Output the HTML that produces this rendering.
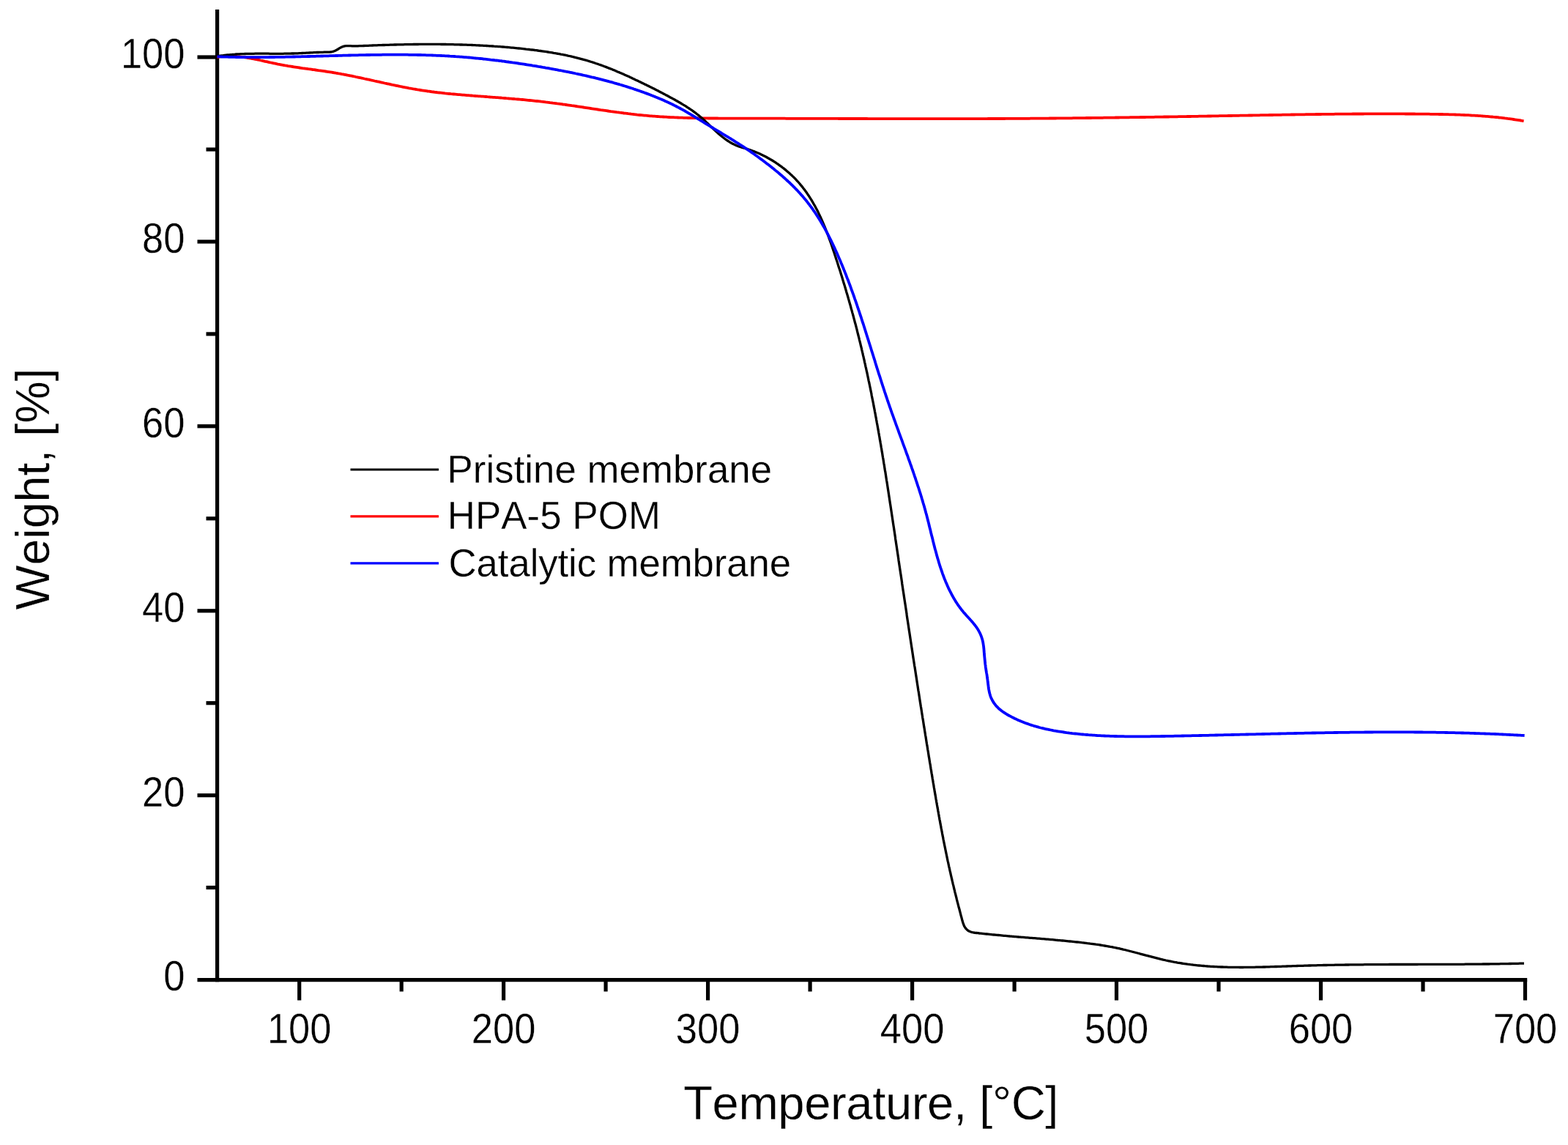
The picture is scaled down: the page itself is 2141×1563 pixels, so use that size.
<!DOCTYPE html>
<html><head><meta charset="utf-8"><title>TGA Weight vs Temperature</title>
<style>
html,body{margin:0;padding:0;background:#fff;}
svg{display:block;}
text{font-family:"Liberation Sans", Arial, sans-serif;font-kerning:none;fill:#000;stroke:#fff;stroke-width:0.3px;}
</style></head>
<body>
<svg width="2141" height="1563" viewBox="0 0 2141 1563">
<rect width="2141" height="1563" fill="#fff"/>
<line x1="296.6" y1="13" x2="296.6" y2="1340.2" stroke="#000" stroke-width="5.2"/>
<line x1="269.5" y1="1337.6" x2="2085.2" y2="1337.6" stroke="#000" stroke-width="5.2"/>
<line x1="281.5" y1="1211.6" x2="296.6" y2="1211.6" stroke="#000" stroke-width="5.2"/>
<line x1="269.5" y1="1085.7" x2="296.6" y2="1085.7" stroke="#000" stroke-width="5.2"/>
<line x1="281.5" y1="959.7" x2="296.6" y2="959.7" stroke="#000" stroke-width="5.2"/>
<line x1="269.5" y1="833.8" x2="296.6" y2="833.8" stroke="#000" stroke-width="5.2"/>
<line x1="281.5" y1="707.8" x2="296.6" y2="707.8" stroke="#000" stroke-width="5.2"/>
<line x1="269.5" y1="581.8" x2="296.6" y2="581.8" stroke="#000" stroke-width="5.2"/>
<line x1="281.5" y1="455.9" x2="296.6" y2="455.9" stroke="#000" stroke-width="5.2"/>
<line x1="269.5" y1="329.9" x2="296.6" y2="329.9" stroke="#000" stroke-width="5.2"/>
<line x1="281.5" y1="204.0" x2="296.6" y2="204.0" stroke="#000" stroke-width="5.2"/>
<line x1="269.5" y1="78.0" x2="296.6" y2="78.0" stroke="#000" stroke-width="5.2"/>
<line x1="408.7" y1="1337.6" x2="408.7" y2="1365.5" stroke="#000" stroke-width="5.2"/>
<line x1="548.2" y1="1337.6" x2="548.2" y2="1353.5" stroke="#000" stroke-width="5.2"/>
<line x1="687.6" y1="1337.6" x2="687.6" y2="1365.5" stroke="#000" stroke-width="5.2"/>
<line x1="827.1" y1="1337.6" x2="827.1" y2="1353.5" stroke="#000" stroke-width="5.2"/>
<line x1="966.6" y1="1337.6" x2="966.6" y2="1365.5" stroke="#000" stroke-width="5.2"/>
<line x1="1106.1" y1="1337.6" x2="1106.1" y2="1353.5" stroke="#000" stroke-width="5.2"/>
<line x1="1245.6" y1="1337.6" x2="1245.6" y2="1365.5" stroke="#000" stroke-width="5.2"/>
<line x1="1385.1" y1="1337.6" x2="1385.1" y2="1353.5" stroke="#000" stroke-width="5.2"/>
<line x1="1524.5" y1="1337.6" x2="1524.5" y2="1365.5" stroke="#000" stroke-width="5.2"/>
<line x1="1664.0" y1="1337.6" x2="1664.0" y2="1353.5" stroke="#000" stroke-width="5.2"/>
<line x1="1803.5" y1="1337.6" x2="1803.5" y2="1365.5" stroke="#000" stroke-width="5.2"/>
<line x1="1943.0" y1="1337.6" x2="1943.0" y2="1353.5" stroke="#000" stroke-width="5.2"/>
<line x1="2082.5" y1="1337.6" x2="2082.5" y2="1365.5" stroke="#000" stroke-width="5.2"/>
<text x="252.5" y="0" transform="translate(0 1352.4) scale(1 1.086)" text-anchor="end" font-size="52.5">0</text>
<text x="252.5" y="0" transform="translate(0 1100.5) scale(1 1.086)" text-anchor="end" font-size="52.5">20</text>
<text x="252.5" y="0" transform="translate(0 848.6) scale(1 1.086)" text-anchor="end" font-size="52.5">40</text>
<text x="252.5" y="0" transform="translate(0 596.6) scale(1 1.086)" text-anchor="end" font-size="52.5">60</text>
<text x="252.5" y="0" transform="translate(0 344.7) scale(1 1.086)" text-anchor="end" font-size="52.5">80</text>
<text x="252.5" y="0" transform="translate(0 92.8) scale(1 1.086)" text-anchor="end" font-size="52.5">100</text>
<text x="408.7" y="0" transform="translate(0 1424.0) scale(1 1.086)" text-anchor="middle" font-size="52.5">100</text>
<text x="687.6" y="0" transform="translate(0 1424.0) scale(1 1.086)" text-anchor="middle" font-size="52.5">200</text>
<text x="966.6" y="0" transform="translate(0 1424.0) scale(1 1.086)" text-anchor="middle" font-size="52.5">300</text>
<text x="1245.6" y="0" transform="translate(0 1424.0) scale(1 1.086)" text-anchor="middle" font-size="52.5">400</text>
<text x="1524.5" y="0" transform="translate(0 1424.0) scale(1 1.086)" text-anchor="middle" font-size="52.5">500</text>
<text x="1803.5" y="0" transform="translate(0 1424.0) scale(1 1.086)" text-anchor="middle" font-size="52.5">600</text>
<text x="2082.5" y="0" transform="translate(0 1424.0) scale(1 1.086)" text-anchor="middle" font-size="52.5">700</text>
<text x="933.20" y="0" transform="translate(0 1527.60) scale(1 1.0)" font-size="65.2" textLength="512.24" lengthAdjust="spacing">Temperature, [°C]</text>
<text x="0" y="0" transform="translate(66.50 832.50) rotate(-90) scale(1 1.0)" font-size="64.5" textLength="330.01" lengthAdjust="spacing">Weight, [%]</text>
<line x1="478.5" y1="641.0" x2="599" y2="641.0" stroke="#000" stroke-width="3.0"/>
<text x="610.60" y="0" transform="translate(0 658.60) scale(1 1.0)" font-size="52.8" textLength="443.51" lengthAdjust="spacing">Pristine membrane</text>
<line x1="478.5" y1="704.9" x2="599" y2="704.9" stroke="#ff0000" stroke-width="3.4"/>
<text x="610.80" y="0" transform="translate(0 722.20) scale(1 1.0)" font-size="52.8" textLength="291.13" lengthAdjust="spacing">HPA-5 POM</text>
<line x1="478.5" y1="768.9" x2="599" y2="768.9" stroke="#0000ff" stroke-width="3.4"/>
<text x="612.60" y="0" transform="translate(0 786.60) scale(1 1.0)" font-size="52.8" textLength="467.51" lengthAdjust="spacing">Catalytic membrane</text>
<path d="M296.5 78.0 L298.6 77.7 L300.6 77.4 L302.7 77.2 L304.7 77.1 L306.7 76.9 L308.8 76.8 L310.8 76.8 L312.8 76.7 L314.8 76.7 L316.8 76.8 L318.8 76.9 L320.8 77.0 L322.8 77.1 L324.8 77.3 L326.8 77.4 L328.7 77.6 L330.7 77.9 L332.7 78.1 L334.7 78.4 L336.6 78.7 L338.6 79.0 L340.6 79.4 L342.5 79.7 L344.5 80.1 L346.4 80.4 L348.4 80.8 L350.3 81.2 L352.3 81.6 L354.2 82.0 L356.2 82.5 L358.1 82.9 L360.1 83.3 L362.0 83.8 L364.0 84.2 L365.9 84.6 L367.9 85.1 L369.8 85.5 L371.8 85.9 L373.7 86.3 L375.7 86.7 L377.6 87.2 L379.6 87.6 L381.6 87.9 L383.5 88.3 L385.5 88.7 L387.4 89.0 L389.4 89.4 L391.4 89.7 L393.3 90.1 L395.3 90.4 L397.3 90.7 L399.3 91.0 L401.2 91.3 L403.2 91.6 L405.2 91.9 L407.2 92.2 L409.1 92.5 L411.1 92.8 L413.1 93.1 L415.1 93.3 L417.0 93.6 L419.0 93.9 L421.0 94.2 L423.0 94.4 L425.0 94.7 L426.9 95.0 L428.9 95.2 L430.9 95.5 L432.9 95.8 L434.9 96.1 L436.8 96.3 L438.8 96.6 L440.8 96.9 L442.8 97.2 L444.8 97.5 L446.7 97.8 L448.7 98.1 L450.7 98.4 L452.7 98.7 L454.6 99.0 L456.6 99.3 L458.6 99.7 L460.5 100.0 L462.5 100.4 L464.5 100.7 L466.4 101.1 L468.4 101.4 L470.4 101.8 L472.3 102.2 L474.3 102.6 L476.3 103.0 L478.2 103.3 L480.2 103.7 L482.1 104.1 L484.1 104.5 L486.0 105.0 L488.0 105.4 L490.0 105.8 L491.9 106.2 L493.9 106.6 L495.8 107.0 L497.8 107.5 L499.7 107.9 L501.7 108.3 L503.6 108.7 L505.6 109.2 L507.6 109.6 L509.5 110.0 L511.5 110.5 L513.4 110.9 L515.4 111.3 L517.3 111.7 L519.3 112.2 L521.2 112.6 L523.2 113.0 L525.1 113.5 L527.1 113.9 L529.0 114.3 L531.0 114.7 L532.9 115.1 L534.9 115.6 L536.9 116.0 L538.8 116.4 L540.8 116.8 L542.7 117.2 L544.7 117.6 L546.6 118.0 L548.6 118.4 L550.5 118.8 L552.5 119.2 L554.5 119.5 L556.4 119.9 L558.4 120.3 L560.3 120.6 L562.3 121.0 L564.3 121.4 L566.2 121.7 L568.2 122.0 L570.2 122.4 L572.1 122.7 L574.1 123.0 L576.1 123.3 L578.0 123.6 L580.0 123.9 L582.0 124.2 L584.0 124.5 L585.9 124.7 L587.9 125.0 L589.9 125.3 L591.9 125.5 L593.9 125.8 L595.8 126.0 L597.8 126.3 L599.8 126.5 L601.8 126.7 L603.8 126.9 L605.7 127.1 L607.7 127.4 L609.7 127.6 L611.7 127.8 L613.7 128.0 L615.7 128.2 L617.7 128.3 L619.6 128.5 L621.6 128.7 L623.6 128.9 L625.6 129.1 L627.6 129.2 L629.6 129.4 L631.6 129.6 L633.6 129.7 L635.6 129.9 L637.6 130.1 L639.6 130.2 L641.5 130.4 L643.5 130.5 L645.5 130.7 L647.5 130.8 L649.5 131.0 L651.5 131.1 L653.5 131.3 L655.5 131.4 L657.5 131.6 L659.5 131.7 L661.5 131.9 L663.5 132.0 L665.5 132.2 L667.5 132.3 L669.4 132.5 L671.4 132.6 L673.4 132.8 L675.4 132.9 L677.4 133.1 L679.4 133.2 L681.4 133.4 L683.4 133.5 L685.4 133.7 L687.4 133.8 L689.4 134.0 L691.4 134.2 L693.4 134.3 L695.3 134.5 L697.3 134.6 L699.3 134.8 L701.3 135.0 L703.3 135.2 L705.3 135.3 L707.3 135.5 L709.3 135.7 L711.3 135.9 L713.3 136.0 L715.2 136.2 L717.2 136.4 L719.2 136.6 L721.2 136.8 L723.2 137.0 L725.2 137.2 L727.2 137.4 L729.2 137.6 L731.2 137.8 L733.1 138.0 L735.1 138.2 L737.1 138.4 L739.1 138.7 L741.1 138.9 L743.1 139.1 L745.1 139.4 L747.0 139.6 L749.0 139.8 L751.0 140.1 L753.0 140.3 L755.0 140.6 L757.0 140.8 L758.9 141.1 L760.9 141.4 L762.9 141.6 L764.9 141.9 L766.9 142.2 L768.8 142.5 L770.8 142.7 L772.8 143.0 L774.8 143.3 L776.8 143.6 L778.8 143.9 L780.7 144.2 L782.7 144.4 L784.7 144.7 L786.7 145.0 L788.6 145.3 L790.6 145.6 L792.6 145.9 L794.6 146.2 L796.6 146.5 L798.5 146.8 L800.5 147.1 L802.5 147.4 L804.5 147.7 L806.5 148.0 L808.4 148.3 L810.4 148.6 L812.4 148.9 L814.4 149.2 L816.4 149.5 L818.3 149.8 L820.3 150.1 L822.3 150.3 L824.3 150.6 L826.3 150.9 L828.2 151.2 L830.2 151.5 L832.2 151.8 L834.2 152.1 L836.2 152.3 L838.1 152.6 L840.1 152.9 L842.1 153.2 L844.1 153.4 L846.1 153.7 L848.0 153.9 L850.0 154.2 L852.0 154.5 L854.0 154.7 L856.0 154.9 L857.9 155.2 L859.9 155.4 L861.9 155.7 L863.9 155.9 L865.9 156.1 L867.9 156.3 L869.9 156.6 L871.8 156.8 L873.8 157.0 L875.8 157.2 L877.8 157.4 L879.8 157.6 L881.8 157.7 L883.8 157.9 L885.8 158.1 L887.7 158.3 L889.7 158.4 L891.7 158.6 L893.7 158.7 L895.7 158.9 L897.7 159.0 L899.7 159.1 L901.7 159.3 L903.7 159.4 L905.7 159.5 L907.7 159.6 L909.7 159.7 L911.6 159.9 L913.6 160.0 L915.6 160.1 L917.6 160.2 L919.6 160.2 L921.6 160.3 L923.6 160.4 L925.6 160.5 L927.6 160.6 L929.6 160.6 L931.6 160.7 L933.6 160.8 L935.6 160.8 L937.6 160.9 L939.6 161.0 L941.6 161.0 L943.6 161.1 L945.6 161.1 L947.6 161.1 L949.6 161.2 L951.6 161.2 L953.6 161.3 L955.6 161.3 L957.6 161.3 L959.6 161.4 L961.6 161.4 L963.6 161.4 L965.6 161.4 L967.6 161.5 L969.6 161.5 L971.6 161.5 L973.6 161.5 L975.6 161.5 L977.6 161.5 L979.6 161.5 L981.6 161.6 L983.6 161.6 L985.6 161.6 L987.6 161.6 L989.6 161.6 L991.6 161.6 L993.6 161.6 L995.6 161.6 L997.6 161.6 L999.6 161.6 L1001.6 161.6 L1003.6 161.6 L1005.6 161.6 L1007.6 161.6 L1009.6 161.6 L1011.6 161.6 L1013.6 161.6 L1015.6 161.6 L1017.6 161.6 L1019.6 161.6 L1021.6 161.6 L1023.6 161.6 L1025.6 161.7 L1027.6 161.7 L1029.6 161.7 L1031.6 161.7 L1033.6 161.7 L1035.6 161.7 L1037.6 161.7 L1039.6 161.7 L1041.6 161.7 L1043.6 161.7 L1045.6 161.7 L1047.6 161.7 L1049.6 161.7 L1051.6 161.7 L1053.6 161.7 L1055.6 161.7 L1057.6 161.7 L1059.6 161.7 L1061.6 161.7 L1063.6 161.7 L1065.6 161.7 L1067.6 161.7 L1069.6 161.7 L1071.6 161.7 L1073.6 161.8 L1075.6 161.8 L1077.6 161.8 L1079.6 161.8 L1081.6 161.8 L1083.6 161.8 L1085.6 161.8 L1087.6 161.8 L1089.6 161.8 L1091.6 161.8 L1093.6 161.8 L1095.6 161.8 L1097.6 161.8 L1099.6 161.8 L1101.6 161.8 L1103.6 161.8 L1105.6 161.8 L1107.6 161.8 L1109.6 161.9 L1111.6 161.9 L1113.6 161.9 L1115.6 161.9 L1117.6 161.9 L1119.6 161.9 L1121.6 161.9 L1123.6 161.9 L1125.6 161.9 L1127.6 161.9 L1129.6 161.9 L1131.6 161.9 L1133.6 161.9 L1135.6 161.9 L1137.6 161.9 L1139.6 161.9 L1141.6 161.9 L1143.6 161.9 L1145.6 162.0 L1147.6 162.0 L1149.6 162.0 L1151.6 162.0 L1153.6 162.0 L1155.6 162.0 L1157.6 162.0 L1159.6 162.0 L1161.6 162.0 L1163.6 162.0 L1165.6 162.0 L1167.6 162.0 L1169.6 162.0 L1171.6 162.0 L1173.6 162.0 L1175.6 162.0 L1177.6 162.0 L1179.6 162.0 L1181.6 162.0 L1183.6 162.0 L1185.6 162.1 L1187.6 162.1 L1189.6 162.1 L1191.6 162.1 L1193.6 162.1 L1195.6 162.1 L1197.6 162.1 L1199.6 162.1 L1201.6 162.1 L1203.6 162.1 L1205.6 162.1 L1207.6 162.1 L1209.6 162.1 L1211.6 162.1 L1213.6 162.1 L1215.6 162.1 L1217.6 162.1 L1219.6 162.1 L1221.6 162.1 L1223.6 162.1 L1225.6 162.1 L1227.6 162.1 L1229.6 162.1 L1231.6 162.1 L1233.6 162.1 L1235.6 162.1 L1237.6 162.1 L1239.6 162.2 L1241.6 162.2 L1243.6 162.2 L1245.6 162.2 L1247.6 162.2 L1249.6 162.2 L1251.6 162.2 L1253.6 162.2 L1255.6 162.2 L1257.6 162.2 L1259.6 162.2 L1261.6 162.2 L1263.6 162.2 L1265.6 162.2 L1267.6 162.2 L1269.6 162.2 L1271.5 162.2 L1273.5 162.2 L1275.5 162.2 L1277.5 162.2 L1279.5 162.2 L1281.5 162.2 L1283.5 162.2 L1285.5 162.2 L1287.5 162.2 L1289.5 162.2 L1291.5 162.2 L1293.5 162.2 L1295.5 162.2 L1297.5 162.2 L1299.5 162.2 L1301.5 162.2 L1303.5 162.2 L1305.5 162.2 L1307.5 162.1 L1309.5 162.1 L1311.5 162.1 L1313.5 162.1 L1315.5 162.1 L1317.5 162.1 L1319.5 162.1 L1321.5 162.1 L1323.5 162.1 L1325.5 162.1 L1327.5 162.1 L1329.5 162.1 L1331.5 162.1 L1333.5 162.1 L1335.5 162.1 L1337.5 162.1 L1339.5 162.1 L1341.5 162.1 L1343.5 162.1 L1345.5 162.1 L1347.5 162.1 L1349.5 162.0 L1351.5 162.0 L1353.5 162.0 L1355.5 162.0 L1357.5 162.0 L1359.5 162.0 L1361.5 162.0 L1363.5 162.0 L1365.5 162.0 L1367.5 162.0 L1369.5 162.0 L1371.5 162.0 L1373.5 161.9 L1375.5 161.9 L1377.5 161.9 L1379.5 161.9 L1381.5 161.9 L1383.5 161.9 L1385.5 161.9 L1387.5 161.9 L1389.5 161.9 L1391.5 161.9 L1393.4 161.8 L1395.4 161.8 L1397.4 161.8 L1399.4 161.8 L1401.4 161.8 L1403.4 161.8 L1405.4 161.8 L1407.4 161.7 L1409.4 161.7 L1411.4 161.7 L1413.4 161.7 L1415.4 161.7 L1417.4 161.7 L1419.4 161.7 L1421.4 161.6 L1423.4 161.6 L1425.4 161.6 L1427.4 161.6 L1429.4 161.6 L1431.4 161.6 L1433.4 161.5 L1435.4 161.5 L1437.4 161.5 L1439.4 161.5 L1441.4 161.5 L1443.4 161.4 L1445.4 161.4 L1447.4 161.4 L1449.4 161.4 L1451.4 161.4 L1453.4 161.4 L1455.4 161.3 L1457.4 161.3 L1459.4 161.3 L1461.4 161.3 L1463.4 161.3 L1465.4 161.2 L1467.4 161.2 L1469.4 161.2 L1471.4 161.2 L1473.4 161.1 L1475.4 161.1 L1477.4 161.1 L1479.4 161.1 L1481.4 161.1 L1483.4 161.0 L1485.4 161.0 L1487.4 161.0 L1489.4 161.0 L1491.4 160.9 L1493.4 160.9 L1495.4 160.9 L1497.4 160.9 L1499.4 160.8 L1501.4 160.8 L1503.4 160.8 L1505.4 160.8 L1507.4 160.7 L1509.4 160.7 L1511.4 160.7 L1513.4 160.7 L1515.4 160.6 L1517.4 160.6 L1519.4 160.6 L1521.4 160.6 L1523.4 160.5 L1525.4 160.5 L1527.4 160.5 L1529.4 160.4 L1531.4 160.4 L1533.4 160.4 L1535.4 160.4 L1537.4 160.3 L1539.4 160.3 L1541.4 160.3 L1543.4 160.2 L1545.4 160.2 L1547.4 160.2 L1549.4 160.2 L1551.4 160.1 L1553.4 160.1 L1555.4 160.1 L1557.4 160.0 L1559.4 160.0 L1561.4 160.0 L1563.4 160.0 L1565.4 159.9 L1567.4 159.9 L1569.4 159.9 L1571.4 159.8 L1573.4 159.8 L1575.4 159.8 L1577.4 159.7 L1579.4 159.7 L1581.4 159.7 L1583.4 159.6 L1585.4 159.6 L1587.4 159.6 L1589.4 159.5 L1591.4 159.5 L1593.4 159.5 L1595.4 159.5 L1597.4 159.4 L1599.4 159.4 L1601.4 159.4 L1603.4 159.3 L1605.4 159.3 L1607.4 159.3 L1609.4 159.2 L1611.4 159.2 L1613.4 159.2 L1615.4 159.1 L1617.4 159.1 L1619.4 159.1 L1621.4 159.0 L1623.4 159.0 L1625.3 159.0 L1627.3 158.9 L1629.3 158.9 L1631.3 158.8 L1633.3 158.8 L1635.3 158.8 L1637.3 158.7 L1639.3 158.7 L1641.3 158.7 L1643.3 158.6 L1645.3 158.6 L1647.3 158.6 L1649.3 158.5 L1651.3 158.5 L1653.3 158.5 L1655.3 158.4 L1657.3 158.4 L1659.3 158.4 L1661.3 158.3 L1663.3 158.3 L1665.3 158.2 L1667.3 158.2 L1669.3 158.2 L1671.3 158.1 L1673.3 158.1 L1675.3 158.1 L1677.3 158.0 L1679.3 158.0 L1681.3 158.0 L1683.3 157.9 L1685.3 157.9 L1687.3 157.9 L1689.3 157.8 L1691.3 157.8 L1693.3 157.7 L1695.3 157.7 L1697.3 157.7 L1699.3 157.6 L1701.3 157.6 L1703.3 157.6 L1705.3 157.5 L1707.3 157.5 L1709.3 157.5 L1711.3 157.4 L1713.3 157.4 L1715.3 157.3 L1717.3 157.3 L1719.3 157.3 L1721.3 157.2 L1723.3 157.2 L1725.3 157.2 L1727.3 157.1 L1729.3 157.1 L1731.3 157.1 L1733.3 157.0 L1735.3 157.0 L1737.3 157.0 L1739.3 156.9 L1741.3 156.9 L1743.3 156.9 L1745.3 156.8 L1747.3 156.8 L1749.3 156.8 L1751.3 156.7 L1753.3 156.7 L1755.3 156.7 L1757.3 156.6 L1759.3 156.6 L1761.3 156.6 L1763.3 156.5 L1765.3 156.5 L1767.3 156.5 L1769.3 156.4 L1771.3 156.4 L1773.3 156.4 L1775.2 156.3 L1777.2 156.3 L1779.2 156.3 L1781.2 156.3 L1783.2 156.2 L1785.2 156.2 L1787.2 156.2 L1789.2 156.1 L1791.2 156.1 L1793.2 156.1 L1795.2 156.1 L1797.2 156.0 L1799.2 156.0 L1801.2 156.0 L1803.2 156.0 L1805.2 155.9 L1807.2 155.9 L1809.2 155.9 L1811.2 155.9 L1813.2 155.8 L1815.2 155.8 L1817.2 155.8 L1819.2 155.8 L1821.2 155.8 L1823.2 155.7 L1825.2 155.7 L1827.2 155.7 L1829.2 155.7 L1831.2 155.7 L1833.2 155.6 L1835.2 155.6 L1837.2 155.6 L1839.2 155.6 L1841.2 155.6 L1843.2 155.6 L1845.2 155.6 L1847.2 155.5 L1849.2 155.5 L1851.2 155.5 L1853.2 155.5 L1855.2 155.5 L1857.2 155.5 L1859.2 155.5 L1861.2 155.5 L1863.2 155.4 L1865.2 155.4 L1867.2 155.4 L1869.2 155.4 L1871.2 155.4 L1873.2 155.4 L1875.2 155.4 L1877.2 155.4 L1879.2 155.4 L1881.2 155.4 L1883.2 155.4 L1885.2 155.4 L1887.2 155.4 L1889.2 155.4 L1891.2 155.4 L1893.2 155.4 L1895.2 155.4 L1897.2 155.4 L1899.2 155.4 L1901.2 155.4 L1903.2 155.4 L1905.2 155.4 L1907.2 155.4 L1909.2 155.4 L1911.2 155.4 L1913.2 155.4 L1915.2 155.4 L1917.2 155.4 L1919.2 155.5 L1921.2 155.5 L1923.2 155.5 L1925.2 155.5 L1927.2 155.5 L1929.2 155.5 L1931.2 155.5 L1933.2 155.6 L1935.2 155.6 L1937.2 155.6 L1939.2 155.6 L1941.2 155.6 L1943.2 155.7 L1945.2 155.7 L1947.2 155.7 L1949.2 155.7 L1951.2 155.7 L1953.2 155.8 L1955.2 155.8 L1957.2 155.8 L1959.2 155.9 L1961.2 155.9 L1963.2 155.9 L1965.2 156.0 L1967.2 156.0 L1969.2 156.0 L1971.2 156.1 L1973.2 156.1 L1975.2 156.2 L1977.1 156.2 L1979.1 156.3 L1981.1 156.3 L1983.1 156.4 L1985.1 156.4 L1987.1 156.5 L1989.1 156.6 L1991.1 156.6 L1993.1 156.7 L1995.1 156.8 L1997.1 156.9 L1999.1 157.0 L2001.1 157.1 L2003.1 157.1 L2005.1 157.2 L2007.1 157.3 L2009.1 157.5 L2011.1 157.6 L2013.1 157.7 L2015.1 157.8 L2017.1 157.9 L2019.1 158.1 L2021.1 158.2 L2023.1 158.3 L2025.1 158.5 L2027.0 158.6 L2029.0 158.8 L2031.0 158.9 L2033.0 159.1 L2035.0 159.3 L2037.0 159.5 L2039.0 159.7 L2041.0 159.8 L2043.0 160.0 L2044.9 160.2 L2046.9 160.5 L2048.9 160.7 L2050.9 160.9 L2052.9 161.1 L2054.9 161.4 L2056.9 161.6 L2058.8 161.9 L2060.8 162.1 L2062.8 162.4 L2064.8 162.7 L2066.8 163.0 L2068.7 163.3 L2070.7 163.6 L2072.7 163.9 L2074.7 164.2 L2076.7 164.5 L2078.6 164.9 L2080.6 165.2" fill="none" stroke="#ff0000" stroke-width="3.8" stroke-linejoin="round"/>
<path d="M296.8 76.8 L298.8 76.5 L300.8 76.2 L302.8 75.9 L304.8 75.7 L306.8 75.4 L308.7 75.2 L310.7 75.0 L312.7 74.8 L314.7 74.6 L316.7 74.5 L318.7 74.3 L320.7 74.2 L322.7 74.0 L324.7 73.9 L326.7 73.8 L328.7 73.7 L330.6 73.6 L332.6 73.6 L334.6 73.5 L336.6 73.4 L338.6 73.4 L340.6 73.3 L342.6 73.3 L344.6 73.3 L346.6 73.3 L348.6 73.2 L350.6 73.2 L352.6 73.2 L354.6 73.2 L356.6 73.2 L358.5 73.2 L360.5 73.2 L362.5 73.2 L364.5 73.2 L366.5 73.2 L368.5 73.3 L370.5 73.3 L372.5 73.3 L374.5 73.3 L376.5 73.3 L378.5 73.3 L380.5 73.3 L382.5 73.3 L384.5 73.3 L386.5 73.3 L388.5 73.2 L390.5 73.2 L392.5 73.2 L394.5 73.1 L396.5 73.1 L398.5 73.0 L400.6 73.0 L402.6 72.9 L404.6 72.8 L406.6 72.8 L408.6 72.7 L410.6 72.6 L412.6 72.5 L414.6 72.4 L416.6 72.3 L418.6 72.2 L420.6 72.1 L422.6 72.0 L424.7 71.9 L426.7 71.8 L428.7 71.7 L430.7 71.6 L432.7 71.5 L434.7 71.5 L436.7 71.4 L438.7 71.3 L440.7 71.3 L442.7 71.2 L444.7 71.2 L446.7 71.2 L448.7 71.1 L450.7 71.0 L452.7 70.8 L454.6 70.4 L456.4 69.8 L458.2 69.0 L460.0 68.0 L461.7 67.0 L463.4 65.9 L465.2 64.9 L467.0 64.0 L468.8 63.4 L470.7 62.9 L472.7 62.7 L474.7 62.6 L476.7 62.6 L478.7 62.7 L480.7 62.8 L482.8 62.8 L484.8 62.8 L486.8 62.8 L488.8 62.8 L490.8 62.7 L492.8 62.7 L494.8 62.6 L496.8 62.5 L498.8 62.4 L500.8 62.3 L502.8 62.3 L504.8 62.2 L506.8 62.1 L508.8 62.0 L510.7 61.9 L512.7 61.9 L514.7 61.8 L516.7 61.7 L518.7 61.7 L520.7 61.6 L522.7 61.5 L524.7 61.5 L526.7 61.4 L528.7 61.3 L530.7 61.3 L532.7 61.2 L534.7 61.2 L536.7 61.1 L538.7 61.0 L540.7 61.0 L542.7 60.9 L544.7 60.9 L546.7 60.9 L548.7 60.8 L550.7 60.8 L552.7 60.7 L554.7 60.7 L556.7 60.7 L558.7 60.6 L560.7 60.6 L562.7 60.6 L564.7 60.5 L566.7 60.5 L568.7 60.5 L570.7 60.5 L572.7 60.4 L574.7 60.4 L576.6 60.4 L578.6 60.4 L580.6 60.4 L582.6 60.4 L584.6 60.4 L586.6 60.4 L588.6 60.4 L590.6 60.4 L592.6 60.4 L594.6 60.4 L596.6 60.4 L598.6 60.4 L600.6 60.4 L602.6 60.5 L604.6 60.5 L606.6 60.5 L608.6 60.5 L610.6 60.6 L612.6 60.6 L614.6 60.6 L616.6 60.7 L618.6 60.7 L620.6 60.8 L622.6 60.8 L624.6 60.9 L626.6 60.9 L628.6 61.0 L630.6 61.0 L632.6 61.1 L634.6 61.2 L636.6 61.2 L638.6 61.3 L640.6 61.4 L642.6 61.4 L644.6 61.5 L646.6 61.6 L648.6 61.7 L650.6 61.8 L652.6 61.9 L654.6 62.0 L656.6 62.1 L658.6 62.2 L660.6 62.3 L662.5 62.4 L664.5 62.5 L666.5 62.6 L668.5 62.8 L670.5 62.9 L672.5 63.0 L674.5 63.2 L676.5 63.3 L678.5 63.4 L680.5 63.6 L682.5 63.7 L684.5 63.9 L686.5 64.0 L688.5 64.2 L690.5 64.4 L692.5 64.5 L694.5 64.7 L696.4 64.9 L698.4 65.1 L700.4 65.2 L702.4 65.4 L704.4 65.6 L706.4 65.8 L708.4 66.0 L710.4 66.2 L712.4 66.4 L714.4 66.6 L716.4 66.8 L718.3 67.1 L720.3 67.3 L722.3 67.5 L724.3 67.8 L726.3 68.0 L728.3 68.2 L730.3 68.5 L732.3 68.7 L734.2 69.0 L736.2 69.3 L738.2 69.5 L740.2 69.8 L742.2 70.1 L744.2 70.4 L746.1 70.7 L748.1 71.0 L750.1 71.3 L752.1 71.6 L754.0 71.9 L756.0 72.3 L758.0 72.6 L759.9 73.0 L761.9 73.3 L763.9 73.7 L765.8 74.1 L767.8 74.4 L769.8 74.8 L771.7 75.2 L773.7 75.6 L775.6 76.1 L777.6 76.5 L779.5 76.9 L781.5 77.4 L783.4 77.8 L785.3 78.3 L787.3 78.8 L789.2 79.3 L791.2 79.8 L793.1 80.3 L795.0 80.8 L796.9 81.3 L798.9 81.9 L800.8 82.4 L802.7 83.0 L804.6 83.6 L806.5 84.2 L808.4 84.8 L810.3 85.4 L812.2 86.0 L814.1 86.7 L816.0 87.3 L817.9 88.0 L819.8 88.6 L821.6 89.3 L823.5 90.0 L825.4 90.7 L827.3 91.4 L829.1 92.1 L831.0 92.9 L832.9 93.6 L834.7 94.3 L836.6 95.1 L838.4 95.8 L840.3 96.6 L842.1 97.4 L844.0 98.2 L845.8 98.9 L847.7 99.7 L849.5 100.5 L851.3 101.3 L853.2 102.2 L855.0 103.0 L856.8 103.8 L858.7 104.6 L860.5 105.5 L862.3 106.3 L864.1 107.2 L865.9 108.0 L867.7 108.9 L869.5 109.7 L871.3 110.6 L873.1 111.4 L874.9 112.3 L876.7 113.2 L878.5 114.1 L880.3 114.9 L882.1 115.8 L883.9 116.7 L885.7 117.6 L887.5 118.5 L889.3 119.3 L891.0 120.2 L892.8 121.1 L894.6 122.0 L896.4 122.9 L898.1 123.8 L899.9 124.8 L901.7 125.7 L903.5 126.6 L905.2 127.5 L907.0 128.4 L908.7 129.4 L910.5 130.3 L912.3 131.3 L914.0 132.2 L915.8 133.2 L917.6 134.1 L919.3 135.1 L921.1 136.0 L922.8 137.0 L924.6 138.0 L926.3 139.0 L928.1 140.0 L929.8 141.0 L931.5 142.1 L933.2 143.1 L935.0 144.1 L936.7 145.2 L938.3 146.3 L940.0 147.4 L941.7 148.5 L943.3 149.6 L945.0 150.7 L946.6 151.9 L948.2 153.1 L949.8 154.2 L951.4 155.5 L953.0 156.7 L954.5 157.9 L956.0 159.2 L957.5 160.5 L959.0 161.8 L960.5 163.1 L962.0 164.5 L963.4 165.8 L964.8 167.2 L966.3 168.5 L967.7 169.9 L969.1 171.3 L970.6 172.7 L972.0 174.0 L973.4 175.4 L974.9 176.8 L976.3 178.1 L977.8 179.5 L979.3 180.8 L980.8 182.2 L982.3 183.5 L983.8 184.8 L985.3 186.0 L986.9 187.3 L988.5 188.5 L990.1 189.7 L991.7 190.9 L993.4 192.0 L995.1 193.1 L996.8 194.2 L998.6 195.2 L1000.4 196.2 L1002.2 197.1 L1004.0 197.9 L1005.8 198.7 L1007.6 199.5 L1009.5 200.2 L1011.4 200.8 L1013.3 201.4 L1015.2 201.9 L1017.1 202.5 L1019.0 203.0 L1020.9 203.6 L1022.8 204.2 L1024.7 204.9 L1026.5 205.5 L1028.4 206.2 L1030.3 206.9 L1032.1 207.7 L1034.0 208.5 L1035.8 209.3 L1037.6 210.1 L1039.4 210.9 L1041.2 211.8 L1043.0 212.7 L1044.8 213.6 L1046.6 214.5 L1048.3 215.5 L1050.1 216.5 L1051.8 217.5 L1053.6 218.5 L1055.3 219.5 L1057.0 220.6 L1058.7 221.7 L1060.3 222.8 L1062.0 223.9 L1063.6 225.1 L1065.3 226.3 L1066.9 227.4 L1068.5 228.7 L1070.1 229.9 L1071.6 231.1 L1073.2 232.4 L1074.7 233.7 L1076.2 235.0 L1077.7 236.3 L1079.2 237.7 L1080.7 239.0 L1082.1 240.4 L1083.6 241.8 L1085.0 243.2 L1086.4 244.7 L1087.7 246.1 L1089.1 247.6 L1090.4 249.0 L1091.7 250.5 L1093.0 252.1 L1094.3 253.6 L1095.5 255.1 L1096.7 256.7 L1097.9 258.2 L1099.1 259.8 L1100.3 261.4 L1101.4 263.0 L1102.5 264.6 L1103.6 266.3 L1104.7 267.9 L1105.8 269.6 L1106.9 271.3 L1107.9 272.9 L1108.9 274.6 L1109.9 276.3 L1110.9 278.1 L1111.9 279.8 L1112.9 281.5 L1113.8 283.3 L1114.7 285.0 L1115.7 286.8 L1116.6 288.6 L1117.5 290.4 L1118.3 292.2 L1119.2 294.0 L1120.0 295.8 L1120.9 297.6 L1121.7 299.4 L1122.5 301.2 L1123.3 303.1 L1124.1 304.9 L1124.9 306.8 L1125.7 308.6 L1126.4 310.5 L1127.2 312.4 L1127.9 314.2 L1128.7 316.1 L1129.4 318.0 L1130.1 319.9 L1130.8 321.8 L1131.5 323.7 L1132.2 325.6 L1132.9 327.5 L1133.6 329.4 L1134.3 331.3 L1135.0 333.2 L1135.6 335.1 L1136.3 337.0 L1136.9 339.0 L1137.6 340.9 L1138.2 342.8 L1138.9 344.7 L1139.5 346.6 L1140.1 348.5 L1140.8 350.5 L1141.4 352.4 L1142.0 354.3 L1142.7 356.2 L1143.3 358.1 L1143.9 360.1 L1144.5 362.0 L1145.1 363.9 L1145.7 365.8 L1146.4 367.7 L1147.0 369.6 L1147.6 371.5 L1148.2 373.5 L1148.8 375.4 L1149.4 377.3 L1150.0 379.2 L1150.5 381.1 L1151.1 383.0 L1151.7 385.0 L1152.3 386.9 L1152.9 388.8 L1153.5 390.7 L1154.0 392.6 L1154.6 394.5 L1155.2 396.4 L1155.7 398.4 L1156.3 400.3 L1156.9 402.2 L1157.4 404.1 L1158.0 406.0 L1158.5 407.9 L1159.1 409.9 L1159.6 411.8 L1160.2 413.7 L1160.7 415.6 L1161.3 417.5 L1161.8 419.5 L1162.3 421.4 L1162.9 423.3 L1163.4 425.2 L1163.9 427.1 L1164.5 429.1 L1165.0 431.0 L1165.5 432.9 L1166.0 434.8 L1166.5 436.7 L1167.0 438.7 L1167.5 440.6 L1168.1 442.5 L1168.6 444.4 L1169.1 446.4 L1169.6 448.3 L1170.1 450.2 L1170.5 452.2 L1171.0 454.1 L1171.5 456.0 L1172.0 458.0 L1172.5 459.9 L1173.0 461.8 L1173.4 463.8 L1173.9 465.7 L1174.4 467.6 L1174.9 469.6 L1175.3 471.5 L1175.8 473.4 L1176.3 475.4 L1176.7 477.3 L1177.2 479.3 L1177.6 481.2 L1178.1 483.1 L1178.5 485.1 L1179.0 487.0 L1179.4 489.0 L1179.9 490.9 L1180.3 492.9 L1180.7 494.8 L1181.2 496.7 L1181.6 498.7 L1182.0 500.6 L1182.5 502.6 L1182.9 504.5 L1183.3 506.5 L1183.8 508.4 L1184.2 510.4 L1184.6 512.3 L1185.0 514.3 L1185.4 516.2 L1185.8 518.2 L1186.2 520.1 L1186.7 522.1 L1187.1 524.1 L1187.5 526.0 L1187.9 528.0 L1188.3 529.9 L1188.7 531.9 L1189.1 533.8 L1189.5 535.8 L1189.9 537.7 L1190.2 539.7 L1190.6 541.7 L1191.0 543.6 L1191.4 545.6 L1191.8 547.5 L1192.2 549.5 L1192.6 551.5 L1192.9 553.4 L1193.3 555.4 L1193.7 557.4 L1194.1 559.3 L1194.4 561.3 L1194.8 563.3 L1195.2 565.2 L1195.5 567.2 L1195.9 569.1 L1196.3 571.1 L1196.6 573.1 L1197.0 575.1 L1197.3 577.0 L1197.7 579.0 L1198.1 581.0 L1198.4 582.9 L1198.8 584.9 L1199.1 586.9 L1199.5 588.8 L1199.8 590.8 L1200.2 592.8 L1200.5 594.7 L1200.9 596.7 L1201.2 598.7 L1201.5 600.7 L1201.9 602.6 L1202.2 604.6 L1202.6 606.6 L1202.9 608.5 L1203.2 610.5 L1203.6 612.5 L1203.9 614.5 L1204.2 616.4 L1204.6 618.4 L1204.9 620.4 L1205.2 622.4 L1205.5 624.3 L1205.9 626.3 L1206.2 628.3 L1206.5 630.3 L1206.8 632.2 L1207.2 634.2 L1207.5 636.2 L1207.8 638.2 L1208.1 640.2 L1208.4 642.1 L1208.8 644.1 L1209.1 646.1 L1209.4 648.1 L1209.7 650.0 L1210.0 652.0 L1210.3 654.0 L1210.6 656.0 L1211.0 658.0 L1211.3 659.9 L1211.6 661.9 L1211.9 663.9 L1212.2 665.9 L1212.5 667.9 L1212.8 669.8 L1213.1 671.8 L1213.4 673.8 L1213.7 675.8 L1214.0 677.8 L1214.3 679.7 L1214.6 681.7 L1214.9 683.7 L1215.2 685.7 L1215.5 687.7 L1215.8 689.6 L1216.1 691.6 L1216.4 693.6 L1216.7 695.6 L1217.0 697.6 L1217.3 699.5 L1217.6 701.5 L1217.9 703.5 L1218.2 705.5 L1218.5 707.5 L1218.8 709.4 L1219.1 711.4 L1219.4 713.4 L1219.7 715.4 L1220.0 717.4 L1220.3 719.3 L1220.6 721.3 L1220.9 723.3 L1221.2 725.3 L1221.5 727.3 L1221.8 729.2 L1222.1 731.2 L1222.4 733.2 L1222.6 735.2 L1222.9 737.2 L1223.2 739.1 L1223.5 741.1 L1223.8 743.1 L1224.1 745.1 L1224.4 747.1 L1224.7 749.0 L1225.0 751.0 L1225.3 753.0 L1225.6 755.0 L1225.9 757.0 L1226.2 758.9 L1226.5 760.9 L1226.8 762.9 L1227.0 764.9 L1227.3 766.8 L1227.6 768.8 L1227.9 770.8 L1228.2 772.8 L1228.5 774.8 L1228.8 776.7 L1229.1 778.7 L1229.4 780.7 L1229.7 782.7 L1230.0 784.6 L1230.3 786.6 L1230.6 788.6 L1230.9 790.6 L1231.2 792.5 L1231.5 794.5 L1231.7 796.5 L1232.0 798.5 L1232.3 800.4 L1232.6 802.4 L1232.9 804.4 L1233.2 806.4 L1233.5 808.3 L1233.8 810.3 L1234.1 812.3 L1234.4 814.3 L1234.7 816.2 L1235.0 818.2 L1235.3 820.2 L1235.6 822.2 L1235.9 824.1 L1236.2 826.1 L1236.5 828.1 L1236.8 830.1 L1237.1 832.0 L1237.4 834.0 L1237.7 836.0 L1238.0 838.0 L1238.2 839.9 L1238.5 841.9 L1238.8 843.9 L1239.1 845.9 L1239.4 847.8 L1239.7 849.8 L1240.0 851.8 L1240.3 853.8 L1240.6 855.7 L1240.9 857.7 L1241.2 859.7 L1241.5 861.7 L1241.8 863.6 L1242.1 865.6 L1242.4 867.6 L1242.7 869.5 L1243.0 871.5 L1243.3 873.5 L1243.6 875.5 L1243.9 877.4 L1244.2 879.4 L1244.5 881.4 L1244.8 883.4 L1245.1 885.3 L1245.4 887.3 L1245.7 889.3 L1246.0 891.3 L1246.3 893.2 L1246.6 895.2 L1246.9 897.2 L1247.2 899.2 L1247.5 901.1 L1247.8 903.1 L1248.1 905.1 L1248.4 907.0 L1248.7 909.0 L1249.1 911.0 L1249.4 913.0 L1249.7 914.9 L1250.0 916.9 L1250.3 918.9 L1250.6 920.9 L1250.9 922.8 L1251.2 924.8 L1251.5 926.8 L1251.8 928.8 L1252.1 930.7 L1252.4 932.7 L1252.7 934.7 L1253.0 936.6 L1253.3 938.6 L1253.6 940.6 L1253.9 942.6 L1254.3 944.5 L1254.6 946.5 L1254.9 948.5 L1255.2 950.5 L1255.5 952.4 L1255.8 954.4 L1256.1 956.4 L1256.4 958.4 L1256.7 960.3 L1257.0 962.3 L1257.3 964.3 L1257.7 966.3 L1258.0 968.2 L1258.3 970.2 L1258.6 972.2 L1258.9 974.2 L1259.2 976.1 L1259.5 978.1 L1259.8 980.1 L1260.2 982.1 L1260.5 984.0 L1260.8 986.0 L1261.1 988.0 L1261.4 990.0 L1261.7 991.9 L1262.1 993.9 L1262.4 995.9 L1262.7 997.9 L1263.0 999.8 L1263.3 1001.8 L1263.6 1003.8 L1264.0 1005.8 L1264.3 1007.7 L1264.6 1009.7 L1264.9 1011.7 L1265.2 1013.7 L1265.5 1015.6 L1265.9 1017.6 L1266.2 1019.6 L1266.5 1021.6 L1266.8 1023.5 L1267.2 1025.5 L1267.5 1027.5 L1267.8 1029.5 L1268.1 1031.5 L1268.4 1033.4 L1268.8 1035.4 L1269.1 1037.4 L1269.4 1039.4 L1269.7 1041.3 L1270.1 1043.3 L1270.4 1045.3 L1270.7 1047.3 L1271.0 1049.3 L1271.4 1051.2 L1271.7 1053.2 L1272.0 1055.2 L1272.4 1057.2 L1272.7 1059.2 L1273.0 1061.1 L1273.3 1063.1 L1273.7 1065.1 L1274.0 1067.1 L1274.3 1069.0 L1274.7 1071.0 L1275.0 1073.0 L1275.3 1075.0 L1275.7 1077.0 L1276.0 1078.9 L1276.3 1080.9 L1276.7 1082.9 L1277.0 1084.9 L1277.4 1086.9 L1277.7 1088.8 L1278.0 1090.8 L1278.4 1092.8 L1278.7 1094.8 L1279.1 1096.7 L1279.4 1098.7 L1279.8 1100.7 L1280.1 1102.7 L1280.5 1104.6 L1280.8 1106.6 L1281.2 1108.6 L1281.5 1110.6 L1281.9 1112.5 L1282.2 1114.5 L1282.6 1116.5 L1282.9 1118.5 L1283.3 1120.4 L1283.7 1122.4 L1284.0 1124.4 L1284.4 1126.3 L1284.8 1128.3 L1285.1 1130.3 L1285.5 1132.2 L1285.9 1134.2 L1286.3 1136.2 L1286.6 1138.1 L1287.0 1140.1 L1287.4 1142.1 L1287.8 1144.0 L1288.1 1146.0 L1288.5 1147.9 L1288.9 1149.9 L1289.3 1151.9 L1289.7 1153.8 L1290.1 1155.8 L1290.5 1157.7 L1290.9 1159.7 L1291.3 1161.6 L1291.7 1163.6 L1292.1 1165.5 L1292.5 1167.5 L1292.9 1169.4 L1293.3 1171.4 L1293.7 1173.3 L1294.1 1175.3 L1294.6 1177.2 L1295.0 1179.2 L1295.4 1181.1 L1295.8 1183.1 L1296.3 1185.0 L1296.7 1186.9 L1297.1 1188.9 L1297.6 1190.8 L1298.0 1192.7 L1298.4 1194.7 L1298.9 1196.6 L1299.3 1198.5 L1299.8 1200.5 L1300.2 1202.4 L1300.7 1204.3 L1301.1 1206.3 L1301.6 1208.2 L1302.1 1210.1 L1302.5 1212.0 L1303.0 1214.0 L1303.5 1215.9 L1303.9 1217.8 L1304.4 1219.7 L1304.9 1221.7 L1305.4 1223.6 L1305.9 1225.5 L1306.3 1227.4 L1306.8 1229.4 L1307.3 1231.3 L1307.8 1233.2 L1308.3 1235.2 L1308.8 1237.1 L1309.3 1239.1 L1309.9 1241.0 L1310.4 1243.0 L1310.9 1244.9 L1311.4 1246.9 L1311.9 1248.9 L1312.4 1250.8 L1313.0 1252.8 L1313.5 1254.8 L1314.0 1256.8 L1314.6 1258.7 L1315.2 1260.7 L1315.9 1262.5 L1316.7 1264.3 L1317.7 1266.0 L1318.8 1267.5 L1320.2 1268.9 L1321.7 1270.2 L1323.5 1271.2 L1325.4 1272.0 L1327.3 1272.6 L1329.3 1273.0 L1331.3 1273.3 L1333.3 1273.5 L1335.3 1273.7 L1337.3 1274.0 L1339.3 1274.2 L1341.2 1274.4 L1343.2 1274.6 L1345.2 1274.8 L1347.2 1275.0 L1349.1 1275.2 L1351.1 1275.4 L1353.1 1275.6 L1355.1 1275.8 L1357.0 1276.0 L1359.0 1276.2 L1361.0 1276.4 L1363.0 1276.5 L1365.0 1276.7 L1367.0 1276.9 L1368.9 1277.1 L1370.9 1277.3 L1372.9 1277.4 L1374.9 1277.6 L1376.9 1277.8 L1378.9 1278.0 L1380.9 1278.1 L1382.9 1278.3 L1384.9 1278.5 L1386.9 1278.6 L1388.9 1278.8 L1390.9 1279.0 L1392.9 1279.1 L1394.9 1279.3 L1396.9 1279.4 L1398.9 1279.6 L1400.9 1279.8 L1402.9 1279.9 L1404.9 1280.1 L1406.8 1280.3 L1408.8 1280.4 L1410.8 1280.6 L1412.8 1280.7 L1414.9 1280.9 L1416.9 1281.1 L1418.9 1281.2 L1420.9 1281.4 L1422.9 1281.6 L1424.9 1281.7 L1426.9 1281.9 L1428.9 1282.1 L1430.9 1282.2 L1432.9 1282.4 L1434.9 1282.6 L1436.8 1282.7 L1438.8 1282.9 L1440.8 1283.1 L1442.8 1283.3 L1444.8 1283.5 L1446.8 1283.6 L1448.8 1283.8 L1450.8 1284.0 L1452.8 1284.2 L1454.8 1284.4 L1456.8 1284.6 L1458.8 1284.8 L1460.8 1285.0 L1462.8 1285.2 L1464.8 1285.4 L1466.8 1285.6 L1468.7 1285.8 L1470.7 1286.0 L1472.7 1286.2 L1474.7 1286.4 L1476.7 1286.7 L1478.7 1286.9 L1480.6 1287.1 L1482.6 1287.3 L1484.6 1287.6 L1486.6 1287.8 L1488.6 1288.1 L1490.5 1288.3 L1492.5 1288.6 L1494.5 1288.9 L1496.5 1289.2 L1498.4 1289.4 L1500.4 1289.7 L1502.4 1290.0 L1504.3 1290.3 L1506.3 1290.7 L1508.3 1291.0 L1510.2 1291.3 L1512.2 1291.7 L1514.1 1292.0 L1516.1 1292.4 L1518.1 1292.7 L1520.0 1293.1 L1522.0 1293.5 L1523.9 1293.9 L1525.9 1294.3 L1527.8 1294.7 L1529.8 1295.2 L1531.8 1295.6 L1533.7 1296.1 L1535.7 1296.5 L1537.6 1297.0 L1539.5 1297.5 L1541.5 1298.0 L1543.4 1298.5 L1545.4 1299.0 L1547.3 1299.5 L1549.3 1300.0 L1551.2 1300.5 L1553.2 1301.0 L1555.1 1301.5 L1557.1 1302.1 L1559.0 1302.6 L1560.9 1303.1 L1562.9 1303.6 L1564.8 1304.2 L1566.8 1304.7 L1568.7 1305.2 L1570.7 1305.7 L1572.6 1306.2 L1574.5 1306.7 L1576.5 1307.2 L1578.4 1307.7 L1580.4 1308.2 L1582.3 1308.7 L1584.3 1309.2 L1586.2 1309.6 L1588.2 1310.1 L1590.1 1310.5 L1592.1 1311.0 L1594.0 1311.4 L1596.0 1311.8 L1598.0 1312.2 L1599.9 1312.6 L1601.9 1313.0 L1603.8 1313.4 L1605.8 1313.7 L1607.7 1314.1 L1609.7 1314.4 L1611.7 1314.7 L1613.6 1315.0 L1615.6 1315.3 L1617.6 1315.6 L1619.5 1315.9 L1621.5 1316.2 L1623.5 1316.4 L1625.5 1316.7 L1627.4 1316.9 L1629.4 1317.2 L1631.4 1317.4 L1633.4 1317.6 L1635.3 1317.8 L1637.3 1318.0 L1639.3 1318.2 L1641.3 1318.4 L1643.3 1318.5 L1645.2 1318.7 L1647.2 1318.8 L1649.2 1319.0 L1651.2 1319.1 L1653.2 1319.3 L1655.2 1319.4 L1657.1 1319.5 L1659.1 1319.6 L1661.1 1319.7 L1663.1 1319.8 L1665.1 1319.9 L1667.1 1320.0 L1669.1 1320.0 L1671.1 1320.1 L1673.1 1320.2 L1675.1 1320.2 L1677.0 1320.3 L1679.0 1320.3 L1681.0 1320.3 L1683.0 1320.4 L1685.0 1320.4 L1687.0 1320.4 L1689.0 1320.4 L1691.0 1320.4 L1693.0 1320.5 L1695.0 1320.5 L1697.0 1320.5 L1699.0 1320.4 L1701.0 1320.4 L1703.0 1320.4 L1705.0 1320.4 L1707.0 1320.4 L1709.0 1320.3 L1711.0 1320.3 L1713.0 1320.3 L1715.0 1320.2 L1717.0 1320.2 L1719.0 1320.2 L1721.0 1320.1 L1723.0 1320.1 L1725.0 1320.0 L1727.0 1320.0 L1729.0 1319.9 L1731.0 1319.9 L1733.1 1319.8 L1735.1 1319.7 L1737.1 1319.7 L1739.1 1319.6 L1741.1 1319.5 L1743.1 1319.5 L1745.1 1319.4 L1747.1 1319.3 L1749.1 1319.3 L1751.1 1319.2 L1753.1 1319.1 L1755.1 1319.1 L1757.1 1319.0 L1759.1 1318.9 L1761.1 1318.8 L1763.1 1318.8 L1765.1 1318.7 L1767.1 1318.6 L1769.1 1318.6 L1771.1 1318.5 L1773.1 1318.4 L1775.1 1318.4 L1777.2 1318.3 L1779.2 1318.3 L1781.2 1318.2 L1783.2 1318.1 L1785.2 1318.1 L1787.2 1318.0 L1789.2 1318.0 L1791.2 1317.9 L1793.2 1317.9 L1795.2 1317.8 L1797.2 1317.8 L1799.2 1317.7 L1801.2 1317.7 L1803.2 1317.6 L1805.2 1317.6 L1807.2 1317.5 L1809.2 1317.5 L1811.2 1317.5 L1813.2 1317.4 L1815.2 1317.4 L1817.2 1317.3 L1819.2 1317.3 L1821.2 1317.3 L1823.2 1317.2 L1825.2 1317.2 L1827.2 1317.2 L1829.2 1317.1 L1831.2 1317.1 L1833.2 1317.1 L1835.2 1317.1 L1837.2 1317.0 L1839.2 1317.0 L1841.2 1317.0 L1843.2 1316.9 L1845.2 1316.9 L1847.2 1316.9 L1849.2 1316.9 L1851.2 1316.9 L1853.2 1316.8 L1855.2 1316.8 L1857.2 1316.8 L1859.2 1316.8 L1861.2 1316.8 L1863.2 1316.7 L1865.2 1316.7 L1867.2 1316.7 L1869.2 1316.7 L1871.2 1316.7 L1873.2 1316.7 L1875.2 1316.7 L1877.2 1316.6 L1879.1 1316.6 L1881.1 1316.6 L1883.1 1316.6 L1885.1 1316.6 L1887.1 1316.6 L1889.1 1316.6 L1891.1 1316.6 L1893.1 1316.6 L1895.1 1316.6 L1897.1 1316.5 L1899.1 1316.5 L1901.1 1316.5 L1903.1 1316.5 L1905.1 1316.5 L1907.1 1316.5 L1909.1 1316.5 L1911.1 1316.5 L1913.1 1316.5 L1915.1 1316.5 L1917.1 1316.5 L1919.1 1316.5 L1921.1 1316.5 L1923.1 1316.5 L1925.1 1316.5 L1927.1 1316.5 L1929.1 1316.5 L1931.1 1316.5 L1933.1 1316.5 L1935.1 1316.5 L1937.1 1316.4 L1939.0 1316.4 L1941.0 1316.4 L1943.0 1316.4 L1945.0 1316.4 L1947.0 1316.4 L1949.0 1316.4 L1951.0 1316.4 L1953.0 1316.4 L1955.0 1316.4 L1957.0 1316.4 L1959.0 1316.4 L1961.0 1316.4 L1963.0 1316.4 L1965.0 1316.4 L1967.0 1316.4 L1969.0 1316.4 L1971.0 1316.4 L1973.0 1316.4 L1975.0 1316.4 L1977.0 1316.4 L1979.0 1316.3 L1981.0 1316.3 L1983.0 1316.3 L1985.0 1316.3 L1987.0 1316.3 L1989.0 1316.3 L1991.0 1316.3 L1993.0 1316.3 L1995.0 1316.3 L1997.0 1316.3 L1999.0 1316.3 L2001.0 1316.2 L2003.0 1316.2 L2005.0 1316.2 L2007.0 1316.2 L2009.0 1316.2 L2011.0 1316.2 L2013.0 1316.2 L2015.0 1316.1 L2017.0 1316.1 L2019.0 1316.1 L2021.0 1316.1 L2023.0 1316.1 L2025.0 1316.0 L2027.0 1316.0 L2029.0 1316.0 L2031.0 1316.0 L2033.0 1316.0 L2035.0 1315.9 L2037.0 1315.9 L2039.0 1315.9 L2041.0 1315.9 L2043.0 1315.8 L2045.0 1315.8 L2047.0 1315.8 L2049.0 1315.7 L2051.0 1315.7 L2053.0 1315.7 L2055.0 1315.6 L2057.0 1315.6 L2059.0 1315.6 L2061.0 1315.5 L2063.0 1315.5 L2065.0 1315.4 L2067.0 1315.4 L2069.0 1315.4 L2071.0 1315.3 L2073.0 1315.3 L2075.0 1315.2 L2077.0 1315.2 L2079.0 1315.1 L2081.0 1315.1" fill="none" stroke="#000" stroke-width="3.3" stroke-linejoin="round"/>
<path d="M296.5 77.3 L298.5 77.4 L300.5 77.4 L302.5 77.5 L304.5 77.6 L306.5 77.6 L308.5 77.7 L310.5 77.7 L312.5 77.8 L314.4 77.8 L316.4 77.9 L318.4 77.9 L320.4 77.9 L322.4 78.0 L324.4 78.0 L326.4 78.0 L328.4 78.1 L330.4 78.1 L332.4 78.1 L334.4 78.1 L336.4 78.1 L338.4 78.1 L340.4 78.2 L342.4 78.2 L344.4 78.2 L346.4 78.2 L348.4 78.2 L350.4 78.2 L352.4 78.2 L354.4 78.2 L356.4 78.1 L358.4 78.1 L360.4 78.1 L362.4 78.1 L364.4 78.1 L366.4 78.1 L368.4 78.0 L370.4 78.0 L372.4 78.0 L374.4 78.0 L376.4 77.9 L378.4 77.9 L380.4 77.9 L382.4 77.9 L384.4 77.8 L386.4 77.8 L388.4 77.8 L390.4 77.7 L392.4 77.7 L394.4 77.6 L396.4 77.6 L398.4 77.6 L400.4 77.5 L402.4 77.5 L404.4 77.4 L406.4 77.4 L408.4 77.3 L410.4 77.3 L412.4 77.2 L414.4 77.2 L416.4 77.1 L418.4 77.1 L420.4 77.0 L422.4 77.0 L424.4 76.9 L426.4 76.9 L428.4 76.8 L430.4 76.8 L432.4 76.7 L434.4 76.7 L436.4 76.6 L438.4 76.5 L440.4 76.5 L442.4 76.4 L444.4 76.4 L446.4 76.3 L448.4 76.3 L450.4 76.2 L452.4 76.2 L454.4 76.1 L456.4 76.1 L458.4 76.0 L460.4 76.0 L462.4 75.9 L464.4 75.8 L466.4 75.8 L468.4 75.7 L470.4 75.7 L472.4 75.6 L474.4 75.6 L476.4 75.5 L478.4 75.5 L480.4 75.4 L482.4 75.4 L484.4 75.4 L486.4 75.3 L488.4 75.3 L490.4 75.2 L492.4 75.2 L494.5 75.1 L496.5 75.1 L498.5 75.1 L500.5 75.0 L502.5 75.0 L504.5 75.0 L506.5 74.9 L508.5 74.9 L510.5 74.9 L512.5 74.8 L514.5 74.8 L516.5 74.8 L518.5 74.8 L520.5 74.8 L522.5 74.7 L524.5 74.7 L526.5 74.7 L528.5 74.7 L530.5 74.7 L532.5 74.7 L534.5 74.7 L536.5 74.7 L538.5 74.7 L540.5 74.7 L542.5 74.7 L544.5 74.7 L546.5 74.7 L548.5 74.7 L550.4 74.7 L552.4 74.7 L554.4 74.7 L556.4 74.7 L558.4 74.8 L560.4 74.8 L562.4 74.8 L564.4 74.8 L566.4 74.9 L568.4 74.9 L570.4 75.0 L572.4 75.0 L574.4 75.0 L576.4 75.1 L578.4 75.1 L580.4 75.2 L582.4 75.3 L584.4 75.3 L586.4 75.4 L588.4 75.4 L590.4 75.5 L592.4 75.6 L594.4 75.7 L596.4 75.8 L598.4 75.8 L600.4 75.9 L602.4 76.0 L604.3 76.1 L606.3 76.2 L608.3 76.3 L610.3 76.4 L612.3 76.5 L614.3 76.7 L616.3 76.8 L618.3 76.9 L620.3 77.0 L622.3 77.2 L624.3 77.3 L626.3 77.4 L628.3 77.6 L630.3 77.7 L632.2 77.9 L634.2 78.1 L636.2 78.2 L638.2 78.4 L640.2 78.5 L642.2 78.7 L644.2 78.9 L646.2 79.1 L648.2 79.3 L650.1 79.5 L652.1 79.6 L654.1 79.8 L656.1 80.0 L658.1 80.2 L660.1 80.5 L662.1 80.7 L664.1 80.9 L666.0 81.1 L668.0 81.3 L670.0 81.6 L672.0 81.8 L674.0 82.0 L676.0 82.3 L678.0 82.5 L679.9 82.7 L681.9 83.0 L683.9 83.2 L685.9 83.5 L687.9 83.7 L689.9 84.0 L691.8 84.3 L693.8 84.5 L695.8 84.8 L697.8 85.1 L699.8 85.4 L701.7 85.6 L703.7 85.9 L705.7 86.2 L707.7 86.5 L709.7 86.8 L711.6 87.1 L713.6 87.4 L715.6 87.7 L717.6 88.0 L719.5 88.3 L721.5 88.6 L723.5 88.9 L725.5 89.2 L727.4 89.6 L729.4 89.9 L731.4 90.2 L733.4 90.5 L735.3 90.9 L737.3 91.2 L739.3 91.5 L741.3 91.9 L743.2 92.2 L745.2 92.6 L747.2 92.9 L749.1 93.2 L751.1 93.6 L753.1 94.0 L755.1 94.3 L757.0 94.7 L759.0 95.0 L761.0 95.4 L762.9 95.8 L764.9 96.1 L766.9 96.5 L768.8 96.9 L770.8 97.3 L772.7 97.7 L774.7 98.0 L776.7 98.4 L778.6 98.8 L780.6 99.2 L782.5 99.6 L784.5 100.0 L786.5 100.5 L788.4 100.9 L790.4 101.3 L792.3 101.7 L794.3 102.1 L796.2 102.6 L798.2 103.0 L800.1 103.4 L802.1 103.9 L804.0 104.3 L806.0 104.8 L807.9 105.3 L809.8 105.7 L811.8 106.2 L813.7 106.7 L815.7 107.1 L817.6 107.6 L819.5 108.1 L821.5 108.6 L823.4 109.1 L825.3 109.6 L827.3 110.1 L829.2 110.6 L831.1 111.1 L833.0 111.7 L835.0 112.2 L836.9 112.7 L838.8 113.3 L840.7 113.8 L842.6 114.4 L844.6 114.9 L846.5 115.5 L848.4 116.0 L850.3 116.6 L852.2 117.2 L854.1 117.8 L856.0 118.4 L857.9 119.0 L859.8 119.6 L861.7 120.2 L863.6 120.8 L865.5 121.5 L867.4 122.1 L869.2 122.7 L871.1 123.4 L873.0 124.0 L874.9 124.7 L876.8 125.4 L878.7 126.0 L880.5 126.7 L882.4 127.4 L884.3 128.1 L886.1 128.8 L888.0 129.5 L889.9 130.3 L891.7 131.0 L893.6 131.7 L895.4 132.5 L897.3 133.2 L899.1 134.0 L900.9 134.8 L902.8 135.5 L904.6 136.3 L906.4 137.1 L908.2 137.9 L910.1 138.7 L911.9 139.6 L913.7 140.4 L915.5 141.3 L917.3 142.1 L919.1 143.0 L920.8 143.9 L922.6 144.8 L924.4 145.7 L926.1 146.6 L927.9 147.5 L929.6 148.5 L931.4 149.4 L933.1 150.4 L934.9 151.3 L936.6 152.3 L938.3 153.3 L940.0 154.3 L941.7 155.3 L943.4 156.3 L945.1 157.4 L946.8 158.4 L948.5 159.4 L950.2 160.5 L951.9 161.5 L953.6 162.5 L955.3 163.6 L957.0 164.6 L958.7 165.7 L960.4 166.7 L962.1 167.8 L963.8 168.8 L965.5 169.9 L967.2 170.9 L968.9 171.9 L970.6 173.0 L972.3 174.0 L974.0 175.0 L975.7 176.1 L977.4 177.1 L979.1 178.1 L980.9 179.2 L982.6 180.2 L984.3 181.2 L986.0 182.3 L987.7 183.3 L989.4 184.3 L991.1 185.4 L992.8 186.4 L994.5 187.4 L996.3 188.5 L998.0 189.5 L999.7 190.6 L1001.4 191.6 L1003.0 192.7 L1004.7 193.8 L1006.4 194.8 L1008.1 195.9 L1009.8 197.0 L1011.5 198.1 L1013.1 199.1 L1014.8 200.2 L1016.5 201.3 L1018.1 202.4 L1019.8 203.6 L1021.4 204.7 L1023.1 205.8 L1024.7 206.9 L1026.4 208.1 L1028.0 209.2 L1029.6 210.3 L1031.2 211.5 L1032.9 212.7 L1034.5 213.8 L1036.1 215.0 L1037.7 216.2 L1039.3 217.4 L1040.9 218.5 L1042.5 219.7 L1044.1 220.9 L1045.7 222.2 L1047.3 223.4 L1048.8 224.6 L1050.4 225.8 L1052.0 227.1 L1053.6 228.3 L1055.1 229.6 L1056.7 230.8 L1058.2 232.1 L1059.8 233.4 L1061.3 234.6 L1062.9 235.9 L1064.4 237.2 L1065.9 238.5 L1067.5 239.8 L1069.0 241.1 L1070.5 242.5 L1072.0 243.8 L1073.4 245.1 L1074.9 246.5 L1076.4 247.9 L1077.9 249.2 L1079.3 250.6 L1080.7 252.0 L1082.2 253.4 L1083.6 254.8 L1085.0 256.2 L1086.4 257.7 L1087.8 259.1 L1089.2 260.5 L1090.5 262.0 L1091.9 263.5 L1093.2 264.9 L1094.5 266.4 L1095.9 267.9 L1097.1 269.4 L1098.4 271.0 L1099.7 272.5 L1101.0 274.0 L1102.2 275.6 L1103.4 277.2 L1104.6 278.7 L1105.8 280.3 L1107.0 281.9 L1108.2 283.5 L1109.4 285.1 L1110.5 286.8 L1111.6 288.4 L1112.8 290.0 L1113.9 291.7 L1115.0 293.4 L1116.0 295.0 L1117.1 296.7 L1118.2 298.4 L1119.2 300.1 L1120.3 301.8 L1121.3 303.5 L1122.3 305.2 L1123.3 307.0 L1124.3 308.7 L1125.3 310.4 L1126.3 312.2 L1127.2 313.9 L1128.2 315.7 L1129.1 317.5 L1130.1 319.2 L1131.0 321.0 L1131.9 322.8 L1132.8 324.6 L1133.7 326.4 L1134.6 328.2 L1135.5 330.0 L1136.4 331.8 L1137.2 333.6 L1138.1 335.4 L1138.9 337.2 L1139.8 339.0 L1140.6 340.9 L1141.4 342.7 L1142.3 344.5 L1143.1 346.3 L1143.9 348.2 L1144.7 350.0 L1145.5 351.9 L1146.3 353.7 L1147.1 355.5 L1147.9 357.4 L1148.6 359.2 L1149.4 361.1 L1150.2 362.9 L1150.9 364.8 L1151.7 366.6 L1152.4 368.5 L1153.2 370.3 L1153.9 372.2 L1154.7 374.1 L1155.4 375.9 L1156.1 377.8 L1156.8 379.7 L1157.6 381.5 L1158.3 383.4 L1159.0 385.3 L1159.7 387.1 L1160.4 389.0 L1161.1 390.9 L1161.8 392.8 L1162.4 394.6 L1163.1 396.5 L1163.8 398.4 L1164.5 400.3 L1165.2 402.2 L1165.8 404.0 L1166.5 405.9 L1167.1 407.8 L1167.8 409.7 L1168.5 411.6 L1169.1 413.5 L1169.8 415.4 L1170.4 417.3 L1171.0 419.2 L1171.7 421.1 L1172.3 422.9 L1173.0 424.8 L1173.6 426.7 L1174.2 428.6 L1174.8 430.5 L1175.5 432.4 L1176.1 434.3 L1176.7 436.2 L1177.3 438.1 L1177.9 440.0 L1178.6 441.9 L1179.2 443.8 L1179.8 445.7 L1180.4 447.6 L1181.0 449.5 L1181.6 451.5 L1182.2 453.4 L1182.8 455.3 L1183.4 457.2 L1184.0 459.1 L1184.6 461.0 L1185.2 462.9 L1185.8 464.8 L1186.4 466.7 L1187.0 468.6 L1187.6 470.5 L1188.2 472.4 L1188.8 474.3 L1189.4 476.2 L1190.0 478.2 L1190.6 480.1 L1191.2 482.0 L1191.8 483.9 L1192.4 485.8 L1193.0 487.7 L1193.6 489.6 L1194.2 491.5 L1194.8 493.4 L1195.3 495.3 L1195.9 497.2 L1196.5 499.1 L1197.1 501.1 L1197.7 503.0 L1198.3 504.9 L1198.9 506.8 L1199.5 508.7 L1200.1 510.6 L1200.8 512.5 L1201.4 514.4 L1202.0 516.3 L1202.6 518.2 L1203.2 520.1 L1203.8 522.0 L1204.4 523.9 L1205.0 525.8 L1205.6 527.7 L1206.3 529.6 L1206.9 531.5 L1207.5 533.4 L1208.1 535.3 L1208.8 537.2 L1209.4 539.1 L1210.0 541.0 L1210.7 542.9 L1211.3 544.8 L1211.9 546.7 L1212.6 548.5 L1213.2 550.4 L1213.9 552.3 L1214.5 554.2 L1215.2 556.1 L1215.9 558.0 L1216.5 559.9 L1217.2 561.8 L1217.8 563.6 L1218.5 565.5 L1219.2 567.4 L1219.9 569.3 L1220.5 571.2 L1221.2 573.0 L1221.9 574.9 L1222.6 576.8 L1223.2 578.7 L1223.9 580.6 L1224.6 582.4 L1225.3 584.3 L1226.0 586.2 L1226.7 588.1 L1227.3 589.9 L1228.0 591.8 L1228.7 593.7 L1229.4 595.6 L1230.1 597.4 L1230.8 599.3 L1231.5 601.2 L1232.2 603.1 L1232.8 604.9 L1233.5 606.8 L1234.2 608.7 L1234.9 610.6 L1235.6 612.4 L1236.3 614.3 L1236.9 616.2 L1237.6 618.1 L1238.3 620.0 L1239.0 621.8 L1239.7 623.7 L1240.3 625.6 L1241.0 627.5 L1241.7 629.4 L1242.4 631.2 L1243.0 633.1 L1243.7 635.0 L1244.4 636.9 L1245.0 638.8 L1245.7 640.7 L1246.3 642.5 L1247.0 644.4 L1247.6 646.3 L1248.3 648.2 L1248.9 650.1 L1249.6 652.0 L1250.2 653.9 L1250.8 655.8 L1251.5 657.7 L1252.1 659.6 L1252.7 661.5 L1253.3 663.4 L1254.0 665.3 L1254.6 667.2 L1255.2 669.1 L1255.8 671.0 L1256.4 672.9 L1257.0 674.8 L1257.6 676.7 L1258.2 678.6 L1258.7 680.5 L1259.3 682.4 L1259.9 684.4 L1260.4 686.3 L1261.0 688.2 L1261.6 690.1 L1262.1 692.1 L1262.7 694.0 L1263.2 695.9 L1263.7 697.8 L1264.2 699.8 L1264.8 701.7 L1265.3 703.6 L1265.8 705.6 L1266.3 707.5 L1266.8 709.5 L1267.3 711.4 L1267.8 713.4 L1268.3 715.3 L1268.7 717.3 L1269.2 719.2 L1269.7 721.2 L1270.2 723.1 L1270.7 725.1 L1271.1 727.0 L1271.6 729.0 L1272.1 730.9 L1272.6 732.8 L1273.1 734.8 L1273.6 736.7 L1274.0 738.7 L1274.5 740.6 L1275.0 742.6 L1275.5 744.5 L1276.0 746.5 L1276.5 748.4 L1277.0 750.3 L1277.6 752.3 L1278.1 754.2 L1278.6 756.1 L1279.1 758.1 L1279.7 760.0 L1280.2 761.9 L1280.8 763.8 L1281.4 765.7 L1281.9 767.6 L1282.5 769.5 L1283.1 771.5 L1283.7 773.4 L1284.3 775.2 L1285.0 777.1 L1285.6 779.0 L1286.3 780.9 L1286.9 782.8 L1287.6 784.7 L1288.3 786.5 L1289.0 788.4 L1289.7 790.2 L1290.5 792.1 L1291.2 793.9 L1292.0 795.8 L1292.8 797.6 L1293.6 799.4 L1294.4 801.2 L1295.2 803.1 L1296.1 804.9 L1297.0 806.7 L1297.9 808.4 L1298.8 810.2 L1299.7 812.0 L1300.7 813.7 L1301.7 815.5 L1302.7 817.2 L1303.7 818.9 L1304.7 820.7 L1305.8 822.3 L1306.9 824.0 L1308.0 825.7 L1309.2 827.3 L1310.4 829.0 L1311.6 830.6 L1312.8 832.2 L1314.1 833.8 L1315.4 835.4 L1316.7 836.9 L1318.1 838.4 L1319.4 840.0 L1320.8 841.5 L1322.2 843.0 L1323.6 844.5 L1324.9 846.0 L1326.3 847.5 L1327.6 849.1 L1328.9 850.6 L1330.2 852.2 L1331.5 853.8 L1332.7 855.4 L1333.8 857.0 L1334.9 858.6 L1335.9 860.3 L1336.9 862.1 L1337.8 863.8 L1338.6 865.6 L1339.4 867.4 L1340.1 869.2 L1340.7 871.1 L1341.3 873.0 L1341.8 874.9 L1342.2 876.9 L1342.5 878.8 L1342.8 880.8 L1343.1 882.8 L1343.3 884.8 L1343.5 886.8 L1343.6 888.8 L1343.8 890.8 L1343.9 892.8 L1344.1 894.8 L1344.3 896.8 L1344.5 898.8 L1344.7 900.8 L1344.9 902.8 L1345.1 904.7 L1345.3 906.7 L1345.6 908.7 L1345.8 910.7 L1346.1 912.6 L1346.4 914.6 L1346.7 916.6 L1347.0 918.5 L1347.4 920.5 L1347.7 922.5 L1347.9 924.4 L1348.2 926.4 L1348.5 928.4 L1348.7 930.4 L1349.0 932.4 L1349.2 934.4 L1349.5 936.4 L1349.7 938.4 L1350.0 940.4 L1350.4 942.4 L1350.8 944.3 L1351.2 946.3 L1351.8 948.2 L1352.3 950.1 L1353.0 951.9 L1353.8 953.7 L1354.7 955.5 L1355.7 957.3 L1356.7 959.0 L1357.9 960.6 L1359.1 962.2 L1360.4 963.8 L1361.8 965.2 L1363.2 966.6 L1364.7 968.0 L1366.3 969.3 L1367.8 970.5 L1369.5 971.7 L1371.2 972.8 L1372.9 973.9 L1374.6 975.0 L1376.3 976.0 L1378.1 977.0 L1379.9 977.9 L1381.7 978.9 L1383.5 979.8 L1385.3 980.7 L1387.2 981.5 L1389.0 982.4 L1390.8 983.2 L1392.7 984.0 L1394.5 984.8 L1396.4 985.5 L1398.2 986.2 L1400.1 987.0 L1402.0 987.6 L1403.9 988.3 L1405.8 989.0 L1407.7 989.6 L1409.6 990.2 L1411.5 990.8 L1413.4 991.3 L1415.3 991.9 L1417.2 992.4 L1419.1 993.0 L1421.1 993.5 L1423.0 993.9 L1424.9 994.4 L1426.9 994.9 L1428.8 995.3 L1430.8 995.7 L1432.7 996.1 L1434.7 996.5 L1436.7 996.9 L1438.6 997.3 L1440.6 997.6 L1442.6 998.0 L1444.5 998.3 L1446.5 998.6 L1448.5 998.9 L1450.5 999.2 L1452.4 999.5 L1454.4 999.8 L1456.4 1000.1 L1458.4 1000.3 L1460.4 1000.6 L1462.3 1000.8 L1464.3 1001.1 L1466.3 1001.3 L1468.3 1001.5 L1470.3 1001.7 L1472.3 1001.9 L1474.3 1002.1 L1476.3 1002.3 L1478.2 1002.5 L1480.2 1002.7 L1482.2 1002.8 L1484.2 1003.0 L1486.2 1003.2 L1488.2 1003.3 L1490.2 1003.4 L1492.2 1003.6 L1494.2 1003.7 L1496.1 1003.8 L1498.1 1004.0 L1500.1 1004.1 L1502.1 1004.2 L1504.1 1004.3 L1506.1 1004.4 L1508.1 1004.5 L1510.1 1004.6 L1512.1 1004.6 L1514.1 1004.7 L1516.1 1004.8 L1518.1 1004.9 L1520.1 1004.9 L1522.1 1005.0 L1524.0 1005.0 L1526.0 1005.1 L1528.0 1005.1 L1530.0 1005.2 L1532.0 1005.2 L1534.0 1005.2 L1536.0 1005.3 L1538.0 1005.3 L1540.0 1005.3 L1542.0 1005.3 L1544.0 1005.3 L1546.0 1005.3 L1548.0 1005.3 L1550.0 1005.4 L1552.0 1005.4 L1554.0 1005.4 L1556.0 1005.3 L1558.0 1005.3 L1560.0 1005.3 L1562.0 1005.3 L1564.0 1005.3 L1566.0 1005.3 L1568.0 1005.3 L1570.0 1005.3 L1572.0 1005.2 L1574.0 1005.2 L1576.0 1005.2 L1578.0 1005.2 L1580.0 1005.1 L1582.0 1005.1 L1584.0 1005.1 L1586.0 1005.0 L1588.0 1005.0 L1590.0 1005.0 L1592.0 1004.9 L1594.0 1004.9 L1596.0 1004.9 L1598.0 1004.8 L1600.0 1004.8 L1602.0 1004.8 L1604.0 1004.7 L1606.0 1004.7 L1608.0 1004.6 L1610.0 1004.6 L1612.0 1004.6 L1614.0 1004.5 L1616.0 1004.5 L1618.0 1004.4 L1620.0 1004.4 L1622.0 1004.4 L1624.0 1004.3 L1626.0 1004.3 L1628.0 1004.2 L1630.0 1004.2 L1632.0 1004.1 L1634.0 1004.1 L1636.0 1004.1 L1638.0 1004.0 L1640.0 1004.0 L1642.0 1003.9 L1644.0 1003.9 L1645.9 1003.8 L1647.9 1003.8 L1649.9 1003.8 L1651.9 1003.7 L1653.9 1003.7 L1655.9 1003.6 L1657.9 1003.6 L1659.9 1003.5 L1661.9 1003.5 L1663.9 1003.4 L1665.9 1003.4 L1667.9 1003.3 L1669.9 1003.3 L1671.9 1003.2 L1673.9 1003.2 L1675.9 1003.2 L1677.9 1003.1 L1679.9 1003.1 L1681.9 1003.0 L1683.9 1003.0 L1685.9 1002.9 L1687.9 1002.9 L1689.9 1002.8 L1691.9 1002.8 L1693.9 1002.7 L1695.9 1002.7 L1697.9 1002.6 L1699.9 1002.6 L1701.9 1002.5 L1703.9 1002.5 L1705.9 1002.4 L1707.9 1002.4 L1709.9 1002.3 L1711.9 1002.3 L1713.9 1002.3 L1715.9 1002.2 L1717.9 1002.2 L1719.9 1002.1 L1721.9 1002.1 L1723.9 1002.0 L1725.9 1002.0 L1727.9 1001.9 L1729.9 1001.9 L1731.9 1001.8 L1733.9 1001.8 L1735.9 1001.7 L1737.9 1001.7 L1739.9 1001.6 L1741.9 1001.6 L1743.9 1001.6 L1745.9 1001.5 L1747.9 1001.5 L1749.9 1001.4 L1751.9 1001.4 L1753.9 1001.3 L1755.9 1001.3 L1757.9 1001.2 L1759.9 1001.2 L1761.9 1001.2 L1763.9 1001.1 L1765.9 1001.1 L1767.9 1001.0 L1769.9 1001.0 L1771.9 1000.9 L1773.9 1000.9 L1775.9 1000.9 L1777.9 1000.8 L1779.9 1000.8 L1781.9 1000.7 L1783.9 1000.7 L1785.9 1000.7 L1787.9 1000.6 L1789.9 1000.6 L1791.9 1000.5 L1793.9 1000.5 L1795.9 1000.5 L1797.9 1000.4 L1799.9 1000.4 L1801.9 1000.4 L1803.9 1000.3 L1805.9 1000.3 L1807.9 1000.3 L1809.9 1000.2 L1811.9 1000.2 L1813.9 1000.2 L1815.9 1000.1 L1817.9 1000.1 L1819.9 1000.1 L1821.9 1000.0 L1823.9 1000.0 L1825.9 1000.0 L1827.9 999.9 L1829.9 999.9 L1831.9 999.9 L1833.9 999.9 L1835.9 999.8 L1837.9 999.8 L1839.9 999.8 L1841.9 999.8 L1843.9 999.7 L1845.9 999.7 L1847.9 999.7 L1849.9 999.7 L1851.9 999.6 L1853.9 999.6 L1855.9 999.6 L1857.9 999.6 L1859.9 999.6 L1861.9 999.6 L1863.9 999.5 L1865.9 999.5 L1867.9 999.5 L1869.9 999.5 L1871.9 999.5 L1873.9 999.5 L1875.9 999.4 L1877.9 999.4 L1879.9 999.4 L1881.9 999.4 L1883.9 999.4 L1885.9 999.4 L1887.9 999.4 L1889.9 999.4 L1891.9 999.4 L1893.9 999.4 L1895.9 999.4 L1897.9 999.4 L1899.9 999.4 L1901.9 999.4 L1903.9 999.4 L1905.9 999.4 L1907.8 999.4 L1909.8 999.4 L1911.8 999.4 L1913.8 999.4 L1915.8 999.4 L1917.8 999.4 L1919.8 999.4 L1921.8 999.4 L1923.8 999.4 L1925.8 999.4 L1927.8 999.4 L1929.8 999.4 L1931.8 999.5 L1933.8 999.5 L1935.8 999.5 L1937.8 999.5 L1939.8 999.5 L1941.8 999.5 L1943.8 999.6 L1945.8 999.6 L1947.8 999.6 L1949.8 999.6 L1951.8 999.6 L1953.8 999.7 L1955.8 999.7 L1957.8 999.7 L1959.8 999.7 L1961.8 999.8 L1963.8 999.8 L1965.8 999.8 L1967.8 999.9 L1969.8 999.9 L1971.8 999.9 L1973.8 1000.0 L1975.8 1000.0 L1977.8 1000.1 L1979.8 1000.1 L1981.8 1000.1 L1983.8 1000.2 L1985.8 1000.2 L1987.8 1000.3 L1989.8 1000.3 L1991.8 1000.4 L1993.8 1000.4 L1995.8 1000.5 L1997.8 1000.5 L1999.7 1000.6 L2001.7 1000.6 L2003.7 1000.7 L2005.7 1000.7 L2007.7 1000.8 L2009.7 1000.9 L2011.7 1000.9 L2013.7 1001.0 L2015.7 1001.1 L2017.7 1001.1 L2019.7 1001.2 L2021.7 1001.3 L2023.7 1001.3 L2025.7 1001.4 L2027.7 1001.5 L2029.7 1001.6 L2031.7 1001.6 L2033.7 1001.7 L2035.7 1001.8 L2037.7 1001.9 L2039.7 1001.9 L2041.7 1002.0 L2043.7 1002.1 L2045.7 1002.2 L2047.7 1002.3 L2049.7 1002.4 L2051.7 1002.5 L2053.7 1002.6 L2055.7 1002.7 L2057.7 1002.8 L2059.6 1002.9 L2061.6 1003.0 L2063.6 1003.1 L2065.6 1003.2 L2067.6 1003.3 L2069.6 1003.4 L2071.6 1003.5 L2073.6 1003.6 L2075.6 1003.7 L2077.6 1003.8 L2079.6 1003.9 L2081.6 1004.0" fill="none" stroke="#0000ff" stroke-width="3.8" stroke-linejoin="round"/>
</svg>
</body></html>
